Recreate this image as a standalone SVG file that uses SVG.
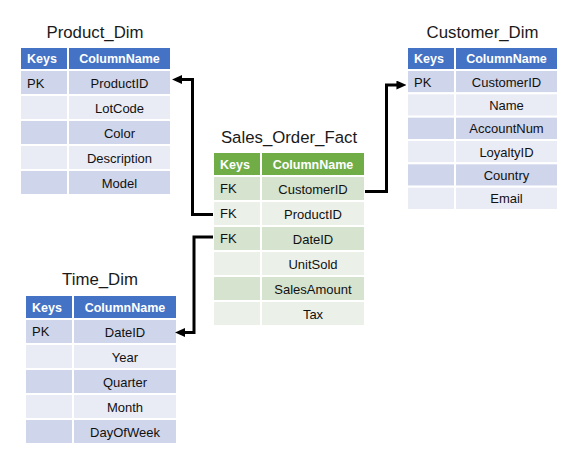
<svg xmlns="http://www.w3.org/2000/svg" width="584" height="470" viewBox="0 0 584 470">
<style>
text{font-family:"Liberation Sans",Arial,sans-serif;}
.title{font-size:16.8px;fill:#1a1a1a;text-anchor:middle;}
.hd{font-size:12.5px;font-weight:bold;fill:#fff;}
.c{font-size:13px;fill:#111;}
.m{text-anchor:middle;}
rect{stroke:#fff;stroke-width:2;}
.bh{fill:#4472C4;}
.b1{fill:#CFD5EA;}
.b2{fill:#E9EBF5;}
.gh{fill:#70AD47;}
.g1{fill:#D5E3CF;}
.g2{fill:#EBF1E9;}
.conn{fill:none;stroke:#000;stroke-width:3;stroke-linejoin:miter;}
</style>
<defs>
<marker id="arr" markerUnits="userSpaceOnUse" markerWidth="10" markerHeight="9" refX="5" refY="4" orient="auto" viewBox="0 0 9 8">
<path d="M0,0 L9,4 L0,8 z" fill="#000"/>
</marker>
</defs>
<rect x="0" y="0" width="584" height="470" fill="#fff" stroke="none"/>

<g id="product_dim">
<text class="title" x="95" y="38">Product_Dim</text>
<rect class="bh" x="20" y="47" width="48" height="23"/>
<rect class="bh" x="68" y="47" width="103" height="23"/>
<text class="hd" x="27" y="63">Keys</text>
<text class="hd m" x="119.5" y="63">ColumnName</text>
<rect class="b1" x="20" y="70" width="48" height="25"/><rect class="b1" x="68" y="70" width="103" height="25"/>
<rect class="b2" x="20" y="95" width="48" height="25"/><rect class="b2" x="68" y="95" width="103" height="25"/>
<rect class="b1" x="20" y="120" width="48" height="25"/><rect class="b1" x="68" y="120" width="103" height="25"/>
<rect class="b2" x="20" y="145" width="48" height="25"/><rect class="b2" x="68" y="145" width="103" height="25"/>
<rect class="b1" x="20" y="170" width="48" height="25"/><rect class="b1" x="68" y="170" width="103" height="25"/>
<text class="c" x="27" y="87.5">PK</text>
<text class="c m" x="119.5" y="87.5">ProductID</text>
<text class="c m" x="119.5" y="112.5">LotCode</text>
<text class="c m" x="119.5" y="137.5">Color</text>
<text class="c m" x="119.5" y="162.5">Description</text>
<text class="c m" x="119.5" y="187.5">Model</text>
</g>

<g id="customer_dim">
<text class="title" x="482.5" y="38">Customer_Dim</text>
<rect class="bh" x="407" y="47" width="48" height="23"/>
<rect class="bh" x="455" y="47" width="103" height="23"/>
<text class="hd" x="414" y="63">Keys</text>
<text class="hd m" x="506.5" y="63">ColumnName</text>
<rect class="b1" x="407" y="70" width="48" height="23.33"/><rect class="b1" x="455" y="70" width="103" height="23.33"/>
<rect class="b2" x="407" y="93.33" width="48" height="23.33"/><rect class="b2" x="455" y="93.33" width="103" height="23.33"/>
<rect class="b1" x="407" y="116.67" width="48" height="23.33"/><rect class="b1" x="455" y="116.67" width="103" height="23.33"/>
<rect class="b2" x="407" y="140" width="48" height="23.33"/><rect class="b2" x="455" y="140" width="103" height="23.33"/>
<rect class="b1" x="407" y="163.33" width="48" height="23.33"/><rect class="b1" x="455" y="163.33" width="103" height="23.33"/>
<rect class="b2" x="407" y="186.67" width="48" height="23.33"/><rect class="b2" x="455" y="186.67" width="103" height="23.33"/>
<text class="c" x="414" y="86.5">PK</text>
<text class="c m" x="506.5" y="86.5">CustomerID</text>
<text class="c m" x="506.5" y="109.8">Name</text>
<text class="c m" x="506.5" y="133.2">AccountNum</text>
<text class="c m" x="506.5" y="156.5">LoyaltyID</text>
<text class="c m" x="506.5" y="179.8">Country</text>
<text class="c m" x="506.5" y="203.2">Email</text>
</g>

<g id="sales_order_fact">
<text class="title" x="289" y="143">Sales_Order_Fact</text>
<rect class="gh" x="213" y="152" width="48" height="24"/>
<rect class="gh" x="261" y="152" width="104" height="24"/>
<text class="hd" x="220" y="168.5">Keys</text>
<text class="hd m" x="313" y="168.5">ColumnName</text>
<rect class="g1" x="213" y="176" width="48" height="25"/><rect class="g1" x="261" y="176" width="104" height="25"/>
<rect class="g2" x="213" y="201" width="48" height="25"/><rect class="g2" x="261" y="201" width="104" height="25"/>
<rect class="g1" x="213" y="226" width="48" height="25"/><rect class="g1" x="261" y="226" width="104" height="25"/>
<rect class="g2" x="213" y="251" width="48" height="25"/><rect class="g2" x="261" y="251" width="104" height="25"/>
<rect class="g1" x="213" y="276" width="48" height="25"/><rect class="g1" x="261" y="276" width="104" height="25"/>
<rect class="g2" x="213" y="301" width="48" height="25"/><rect class="g2" x="261" y="301" width="104" height="25"/>
<text class="c" x="220" y="193">FK</text>
<text class="c" x="220" y="218">FK</text>
<text class="c" x="220" y="243">FK</text>
<text class="c m" x="313" y="193.5">CustomerID</text>
<text class="c m" x="313" y="218.5">ProductID</text>
<text class="c m" x="313" y="243.5">DateID</text>
<text class="c m" x="313" y="268.5">UnitSold</text>
<text class="c m" x="313" y="293.5">SalesAmount</text>
<text class="c m" x="313" y="318.5">Tax</text>
</g>

<g id="time_dim">
<text class="title" x="100" y="285">Time_Dim</text>
<rect class="bh" x="25" y="295" width="48" height="24"/>
<rect class="bh" x="73" y="295" width="104" height="24"/>
<text class="hd" x="32" y="311.5">Keys</text>
<text class="hd m" x="125" y="311.5">ColumnName</text>
<rect class="b1" x="25" y="319" width="48" height="25"/><rect class="b1" x="73" y="319" width="104" height="25"/>
<rect class="b2" x="25" y="344" width="48" height="25"/><rect class="b2" x="73" y="344" width="104" height="25"/>
<rect class="b1" x="25" y="369" width="48" height="25"/><rect class="b1" x="73" y="369" width="104" height="25"/>
<rect class="b2" x="25" y="394" width="48" height="25"/><rect class="b2" x="73" y="394" width="104" height="25"/>
<rect class="b1" x="25" y="419" width="48" height="25"/><rect class="b1" x="73" y="419" width="104" height="25"/>
<text class="c" x="32" y="336">PK</text>
<text class="c m" x="125" y="336.5">DateID</text>
<text class="c m" x="125" y="361.5">Year</text>
<text class="c m" x="125" y="386.5">Quarter</text>
<text class="c m" x="125" y="411.5">Month</text>
<text class="c m" x="125" y="436.5">DayOfWeek</text>
</g>

<g id="connectors">
<path class="conn" d="M213,214.5 H192.5 V79.5 H176.5" marker-end="url(#arr)"/>
<path class="conn" d="M213,237 H194 V332.5 H179.5" marker-end="url(#arr)"/>
<path class="conn" d="M365,191.5 H386.5 V85 H402" marker-end="url(#arr)"/>
</g>
</svg>
